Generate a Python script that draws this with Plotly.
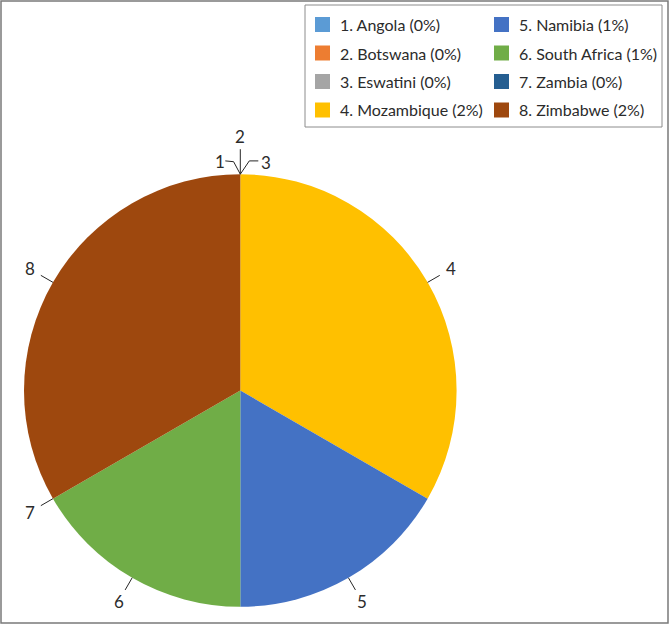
import math
import plotly.graph_objects as go

# ---------------- data ----------------
numbers = ["1", "2", "3", "4", "5", "6", "7", "8"]
countries = ["Angola", "Botswana", "Eswatini", "Mozambique",
             "Namibia", "South Africa", "Zambia", "Zimbabwe"]
values = [0, 0, 0, 2, 1, 1, 0, 2]
colors = ["#5B9BD5", "#ED7D31", "#A5A5A5", "#FFC000",
          "#4472C4", "#70AD47", "#255E91", "#9E480E"]

# ---------------- layout constants (pixels) ----------------
W, H = 670, 626
CX, CY, R = 240.3, 390.5, 216.3
FONT = "Lato, 'Open Sans', sans-serif"
TXT = "#2b2b2b"


def px(x):
    return x / W


def py(y):
    return 1 - y / H


fig = go.Figure()
fig.add_trace(go.Pie(
    labels=[f"{n}. {c}" for n, c in zip(numbers, countries)],
    values=values,
    sort=False,
    direction="clockwise",
    rotation=0,
    marker=dict(colors=colors, line=dict(width=0)),
    textinfo="none",
    hovertemplate="%{label}: %{value}%<extra></extra>",
    showlegend=False,
    domain=dict(x=[px(CX - R), px(CX + R)], y=[py(CY + R), py(CY - R)]),
))

shapes = []
annotations = []

# ---------------- slice number labels with leader lines ----------------
total = sum(values)
cum = 0.0
mids = []
for v in values:
    mids.append(2 * math.pi * (cum + v / 2) / total)
    cum += v


def pol(theta, r):
    return CX + r * math.sin(theta), CY - r * math.cos(theta)


# group labels sharing the same angle (zero-value slices)
groups = {}
for i, th in enumerate(mids):
    groups.setdefault(round(th, 6), []).append(i)

LINE = dict(color="#262626", width=1)
for th_key, idxs in groups.items():
    th = mids[idxs[0]]
    ex, ey = pol(th, R)
    if len(idxs) == 3:
        # left elbow, straight middle, right elbow (cluster at the top)
        a, b, c = idxs
        shapes.append(dict(type="path", xref="paper", yref="paper",
                           path=f"M {px(ex)} {py(ey)} L {px(ex-6.7)} {py(ey-12.5)} L {px(ex-15)} {py(ey-13.3)}",
                           line=LINE))
        annotations.append(dict(x=px(ex - 20.5), y=py(ey - 12.5), text=numbers[a]))
        shapes.append(dict(type="line", xref="paper", yref="paper",
                           x0=px(ex), y0=py(ey), x1=px(ex), y1=py(ey - 25),
                           line=LINE))
        annotations.append(dict(x=px(ex), y=py(ey - 37.5), text=numbers[b]))
        shapes.append(dict(type="path", xref="paper", yref="paper",
                           path=f"M {px(ex)} {py(ey)} L {px(ex+9)} {py(ey-13.3)} L {px(ex+18)} {py(ey-13.3)}",
                           line=LINE))
        annotations.append(dict(x=px(ex + 26), y=py(ey - 12), text=numbers[c]))
    else:
        for i in idxs:
            x0, y0 = pol(th, R)
            x1, y1 = pol(th, R + 14)
            lx, ly = pol(th, R + 27)
            shapes.append(dict(type="line", xref="paper", yref="paper",
                               x0=px(x0), y0=py(y0), x1=px(x1), y1=py(y1),
                               line=LINE))
            annotations.append(dict(x=px(lx), y=py(ly), text=numbers[i]))

for a in annotations:
    a.update(xref="paper", yref="paper", xanchor="center", yanchor="middle",
             showarrow=False, font=dict(family=FONT, size=17, color=TXT))

# ---------------- legend (2 columns, column-major) ----------------
LX0, LY0, LX1, LY1 = 305, 5, 662, 127
shapes.append(dict(type="rect", xref="paper", yref="paper",
                   x0=px(LX0), y0=py(LY1), x1=px(LX1), y1=py(LY0),
                   line=dict(color="#8c8c8c", width=1), fillcolor="white", layer="below"))
col_x = [315, 494]
row_y0, row_dy = 24.5, 28.5
sq = 15
for i, (n, c, v, col) in enumerate(zip(numbers, countries, values, colors)):
    cx = col_x[i // 4]
    cy = row_y0 + (i % 4) * row_dy
    shapes.append(dict(type="rect", xref="paper", yref="paper",
                       x0=px(cx), x1=px(cx + sq), y0=py(cy + sq / 2), y1=py(cy - sq / 2),
                       line=dict(width=0), fillcolor=col))
    annotations.append(dict(xref="paper", yref="paper", x=px(cx + 23), y=py(cy),
                            xanchor="left", yanchor="middle", showarrow=False,
                            text=f"{n}. {c} ({v}%)",
                            font=dict(family=FONT, size=16, color=TXT)))

# ---------------- outer frame ----------------
shapes.append(dict(type="rect", xref="paper", yref="paper",
                   x0=px(1), y0=py(623), x1=px(668), y1=py(1),
                   line=dict(color="#7a7a7a", width=1.5)))

fig.update_layout(
    width=W, height=H,
    margin=dict(l=0, r=0, t=0, b=0),
    paper_bgcolor="white", plot_bgcolor="white",
    shapes=shapes, annotations=annotations,
    showlegend=False,
    font=dict(family=FONT, color=TXT),
)

fig.write_html("out.html")
